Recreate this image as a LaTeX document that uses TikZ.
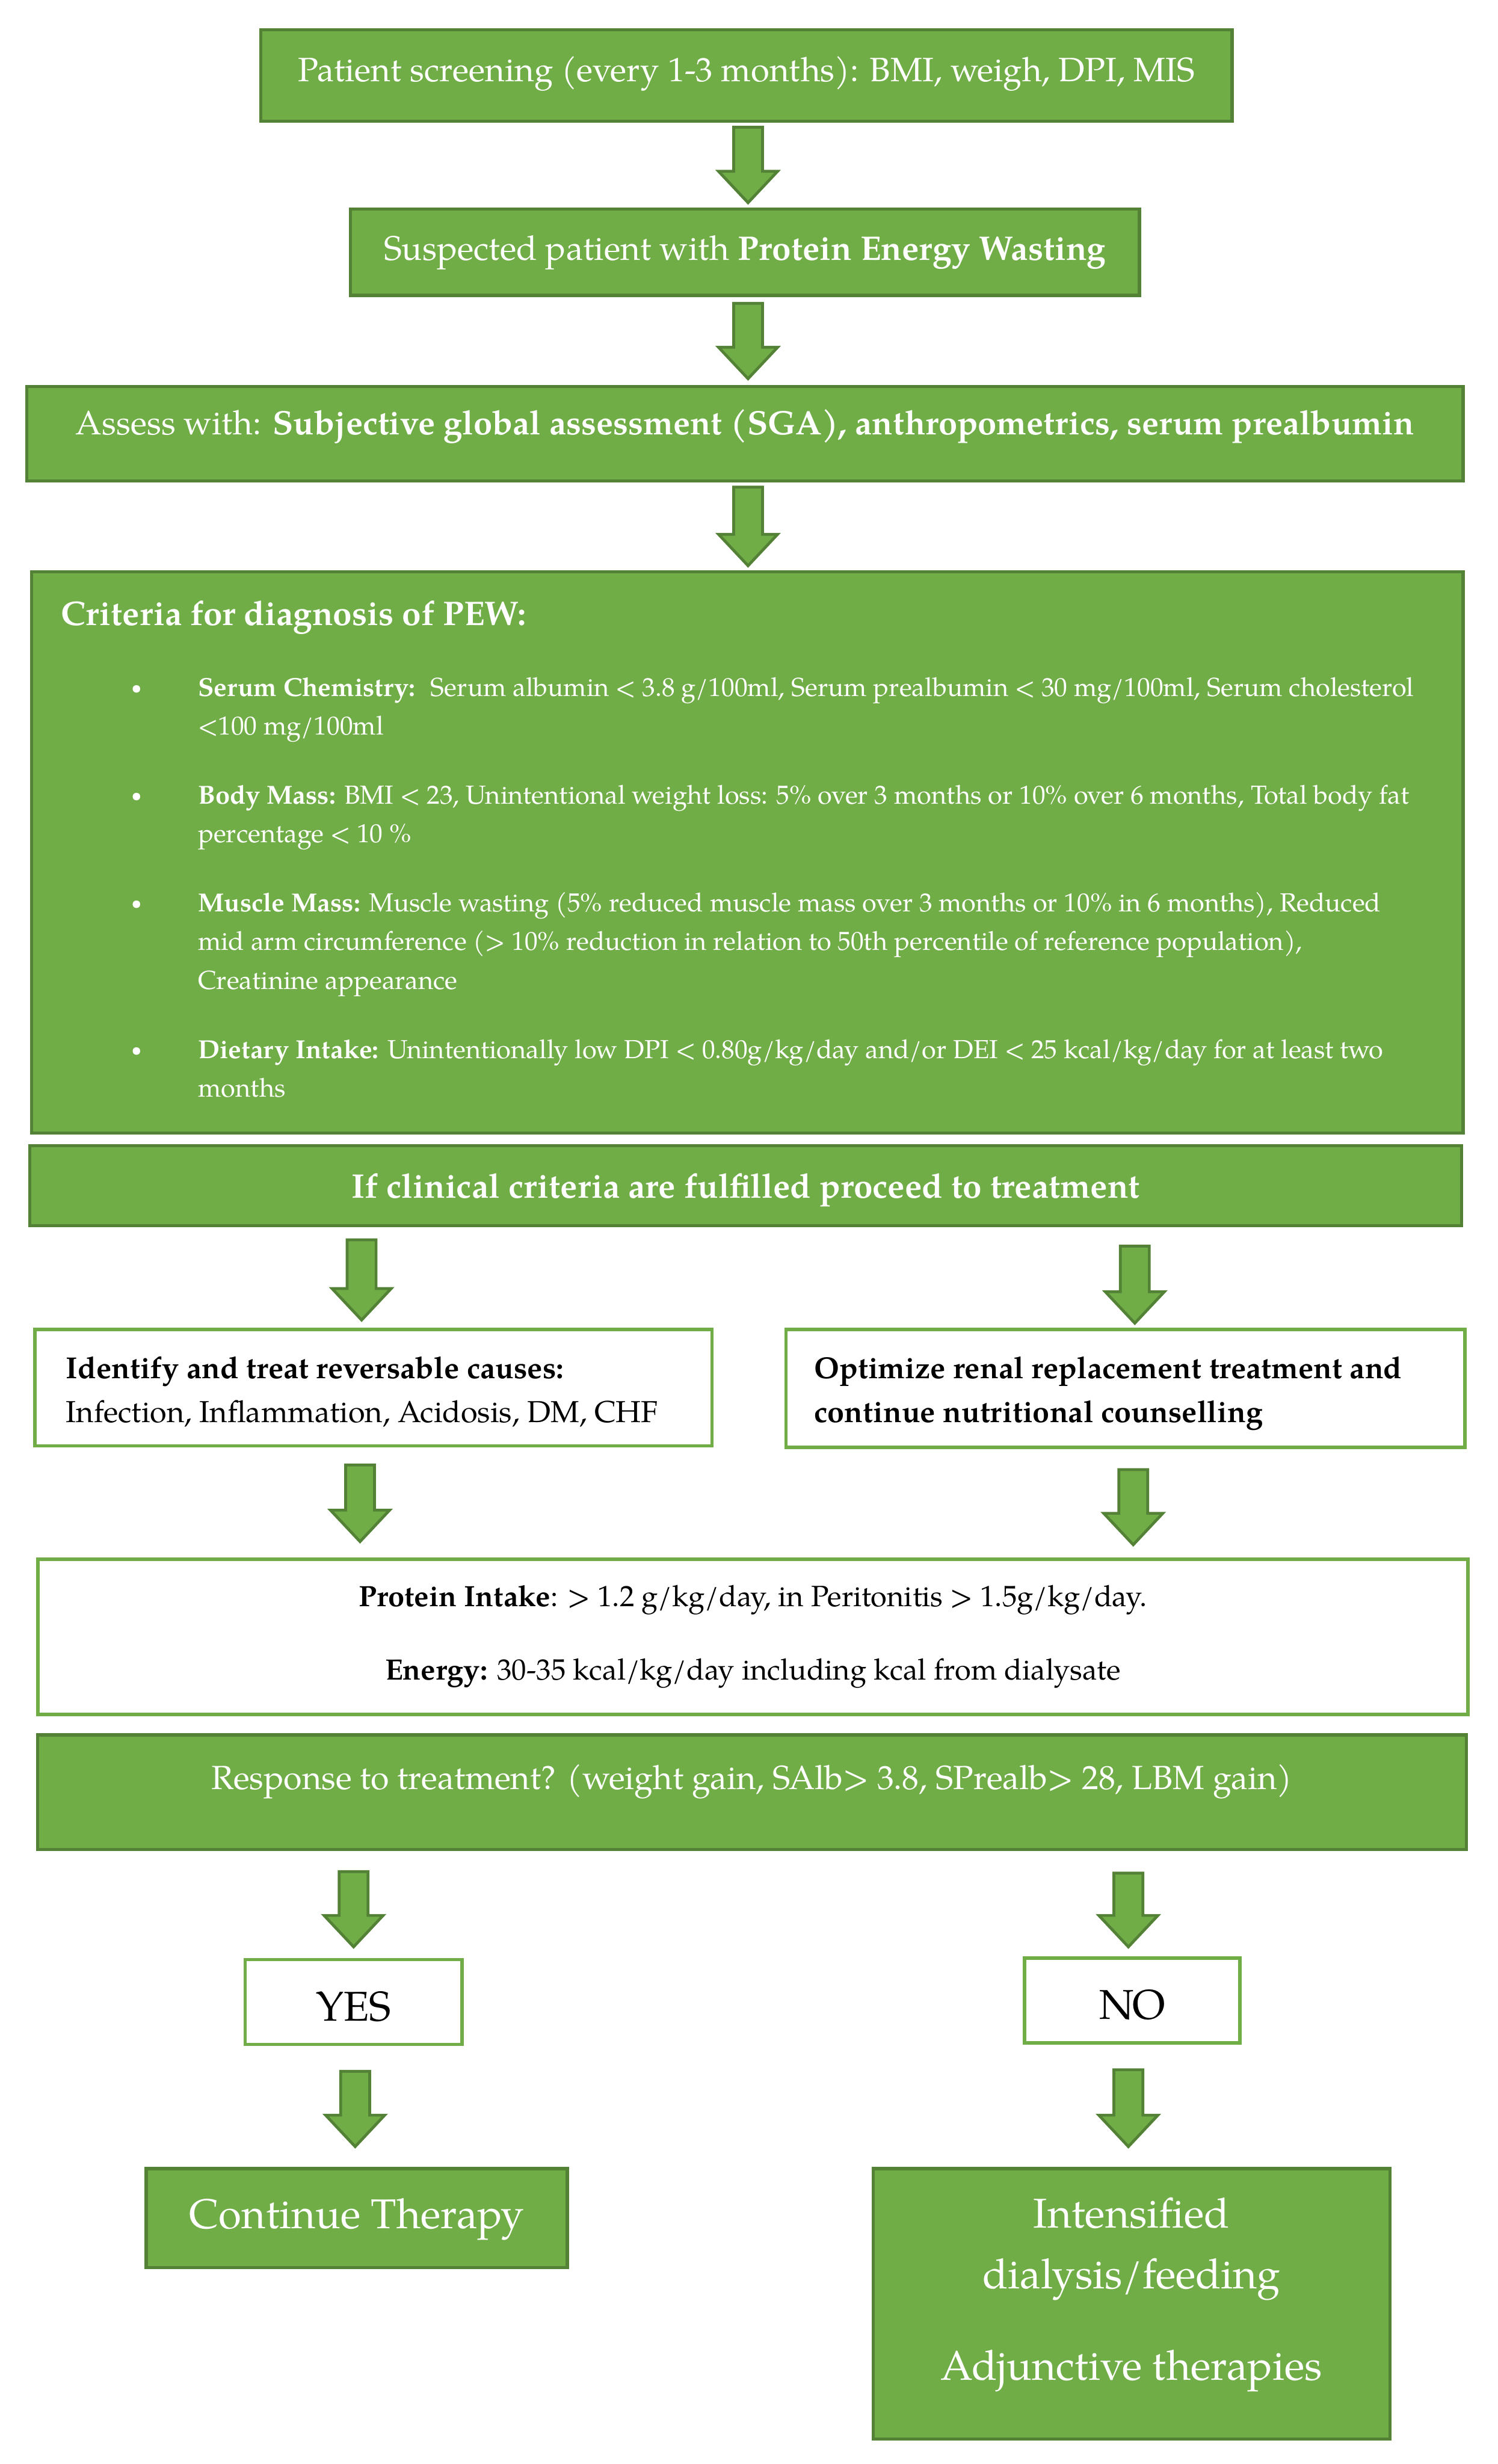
\documentclass[tikz,border=0pt]{standalone}
\usepackage{fontspec}
\setmainfont{TeX Gyre Pagella}
\usetikzlibrary{calc}
\definecolor{gfill}{HTML}{70AD47}
\definecolor{gdark}{HTML}{538135}
\newcommand{\fsz}[2]{\fontsize{#1pt}{#2pt}\selectfont}
\newcommand{\garrow}[2]{%
  \draw[blockarr] let \p1=#1, \p2=#2 in
    (\x1-9.2pt,\y1) -- (\x1+9.2pt,\y1) -- (\x1+9.2pt,\y2+20pt) -- (\x1+18.8pt,\y2+20pt)
    -- (\x1,\y2) -- (\x1-18.8pt,\y2+20pt) -- (\x1-9.2pt,\y2+20pt) -- cycle;}
\newcommand{\bul}{\leavevmode\llap{\makebox[42.5pt][l]{\raisebox{1.5pt}{\fsz{12}{12}\textbullet}}}}
\tikzset{
  gbox/.style={draw=gdark, fill=gfill, line width=2pt, inner sep=0pt, text=white},
  wbox/.style={draw=gfill, fill=white, line width=2.2pt, inner sep=0pt, text=black},
  blockarr/.style={draw=gdark, fill=gfill, line width=1.8pt, line join=miter},
}
\begin{document}
\begin{tikzpicture}[x=1pt,y=-1pt]
\fill[white] (0,0) rectangle (953,1568);
\useasboundingbox (0,0) rectangle (953,1568);

\node[gbox, minimum width=618pt, minimum height=58pt, text height=24pt, text depth=16pt, font={\fsz{21.5}{26}}] (b1) at (475,48)
  {Patient screening (every 1-3 months): BMI, weigh, DPI, MIS};
\node[gbox, minimum width=502pt, minimum height=55pt, text height=24pt, text depth=14pt, font={\fsz{21.7}{26}}] (b2) at (474,160.5)
  {Suspected patient with \textbf{Protein Energy Wasting}};
\node[gbox, minimum width=914pt, minimum height=60pt, text height=24pt, text depth=23pt, font={\fsz{21.5}{26}}] (b3) at (474,276)
  {Assess with: \textbf{Subjective global assessment (SGA), anthropometrics, serum prealbumin}};

\node[gbox, anchor=north west] (b4) at (19,363) {\parbox[c][357pt][t]{911pt}{%
  \leftskip=19pt
  \fsz{21.7}{26}\bfseries\rule{0pt}{34pt}Criteria for diagnosis of PEW:\par
  \vspace{1pt}%
  \mdseries\fsz{16.6}{24.6}\setlength{\parskip}{19.4pt}\leftskip=106pt
  \bul\mbox{\textbf{Serum Chemistry:}~ Serum albumin < 3.8 g/100ml, Serum prealbumin < 30 mg/100ml, Serum cholesterol}\\
  \mbox{<100 mg/100ml}\par
  \bul\mbox{\textbf{Body Mass:} BMI < 23, Unintentional weight loss: 5\% over 3 months or 10\% over 6 months, Total body fat}\\
  \mbox{percentage < 10 \%}\par
  \bul\mbox{\textbf{Muscle Mass:} Muscle wasting (5\% reduced muscle mass over 3 months or 10\% in 6 months), Reduced}\\
  \mbox{mid arm circumference (> 10\% reduction in relation to 50th percentile of reference population),}\\
  \mbox{Creatinine appearance}\par
  \bul\mbox{\textbf{Dietary Intake:} Unintentionally low DPI < 0.80g/kg/day and/or DEI < 25 kcal/kg/day for at least two}\\
  \mbox{months}\par}};

\node[gbox, minimum width=911pt, minimum height=51pt, text height=24pt, text depth=8pt, font={\fsz{21.7}{26}\bfseries}] (b5) at (474.5,754.5)
  {If clinical criteria are fulfilled proceed to treatment};

\node[wbox, anchor=north west] (b6) at (21,845) {\parbox[c][74pt][t]{431pt}{%
  \leftskip=20pt\fsz{19.3}{28}\rule{0pt}{31pt}\textbf{Identify and treat reversable causes:}\\
  Infection, Inflammation, Acidosis, DM, CHF}};
\node[wbox, anchor=north west] (b7) at (499,845) {\parbox[c][75pt][t]{432pt}{%
  \leftskip=18pt\fsz{19.3}{28}\bfseries\rule{0pt}{31pt}Optimize renal replacement treatment and\\
  continue nutritional counselling}};

\node[wbox, anchor=north west] (b8) at (23,991) {\parbox[c][99pt][t]{910pt}{%
  \centering\fsz{18.7}{47}\rule{0pt}{30pt}\textbf{Protein Intake}: > 1.2 g/kg/day, in Peritonitis > 1.5g/kg/day.\\
  \textbf{Energy:} 30-35 kcal/kg/day including kcal from dialysate}};

\node[gbox, minimum width=909pt, minimum height=73pt, text height=24pt, text depth=27.8pt, font={\fsz{21.3}{26}}] (b9) at (478.5,1140.5)
  {Response to treatment? (weight gain, SAlb> 3.8, SPrealb> 28, LBM gain)};

\node[wbox, minimum width=138pt, minimum height=54pt, text height=30pt, text depth=6pt, font={\fsz{26.5}{30}}] (yes) at (225,1274) {YES};
\node[wbox, minimum width=137pt, minimum height=54pt, text height=30pt, text depth=6pt, font={\fsz{26.5}{30}}] (no) at (720.5,1273) {NO};

\node[gbox, minimum width=268pt, minimum height=63pt, text height=24pt, text depth=11pt, font={\fsz{26.5}{30}}] (cont) at (227,1411.5) {Continue Therapy};
\node[gbox, anchor=north west] (intens) at (554.5,1379) {\parbox[c][172pt][t]{329pt}{%
  \centering\fsz{26.5}{38.7}\rule{0pt}{37.7pt}Intensified\\
  dialysis/feeding\\[19.6pt]
  Adjunctive therapies}};

\garrow{($(b1.south)+(1,3)$)}{($(b2.north)+(2,-3)$)}
\garrow{($(b2.south)+(2,4)$)}{($(b3.north)+(2,-4)$)}
\garrow{($(b3.south)+(2,3)$)}{($(b4.north)+(2,-3)$)}
\garrow{($(b6.north |- b5.south)+(-7.5,8)$)}{($(b6.north)+(-7.5,-5)$)}
\garrow{($(b7.north |- b5.south)+(6,12)$)}{($(b7.north)+(6,-3)$)}
\garrow{($(b6.south)+(-8.5,11)$)}{($(b6.south |- b8.north)+(-8.5,-10)$)}
\garrow{($(b7.south)+(5,13)$)}{($(b7.south |- b8.north)+(5,-8)$)}
\garrow{($(yes.north |- b9.south)+(0,13)$)}{($(yes.north)+(0,-7)$)}
\garrow{($(no.north |- b9.south)+(-2.5,14)$)}{($(no.north)+(-2.5,-6)$)}
\garrow{($(yes.south)+(1,16)$)}{($(yes.south |- cont.north)+(1,-13)$)}
\garrow{($(no.south)+(-2.5,16)$)}{($(no.south |- intens.north)+(-2.5,-13)$)}
\end{tikzpicture}
\end{document}
